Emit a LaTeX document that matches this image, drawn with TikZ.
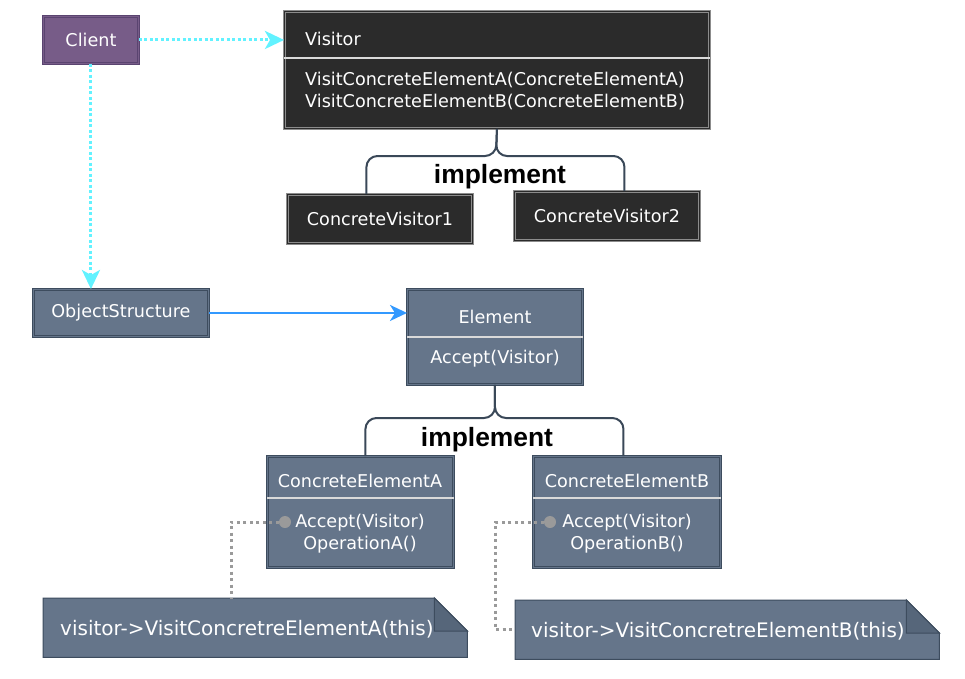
\documentclass[tikz,border=0pt]{standalone}
\usepackage{fontspec}
\setmainfont{DejaVu Sans}
\newfontfamily\impfont{Liberation Sans}
\usetikzlibrary{arrows.meta,calc}
\definecolor{slate}{HTML}{65758A}
\definecolor{slateline}{HTML}{3D4C5E}
\definecolor{darkfill}{HTML}{2B2B2B}
\definecolor{darkline}{HTML}{8C8C8C}
\definecolor{purp}{HTML}{775C88}
\definecolor{purpline}{HTML}{5A4470}
\definecolor{cyanline}{HTML}{62F2FF}
\definecolor{blueline}{HTML}{3399FF}
\definecolor{bracecol}{HTML}{3A4858}
\definecolor{dotgray}{HTML}{9A9A9A}
\definecolor{divcol}{HTML}{DADADA}
\definecolor{foldcol}{HTML}{56667A}
\begin{document}
\begin{tikzpicture}[x=1pt,y=-1pt,
  ubox/.style n args={4}{draw=#2, fill=#1, line width=0.9pt, double=#1, double distance=1.6pt,
    inner sep=0pt, anchor=north west, minimum width=#3, minimum height=#4,
    text=white, font=\fontsize{17.6}{21}\selectfont},
  lbl/.style={text=white, inner sep=0pt, font=\fontsize{17.6}{22}\selectfont},
  divider/.style={draw=divcol, line width=1.5pt},
  brace/.style={draw=bracecol, line width=2pt, rounded corners=11pt},
  impl/.style={inner sep=0pt, font=\impfont\bfseries\fontsize{26.4}{30}\selectfont},
  cyandot/.style={draw=cyanline, line width=3pt, dash pattern=on 3pt off 2.5pt,
    -{Stealth[length=19pt,width=18pt,inset=5pt]}},
  bluearrow/.style={draw=blueline, line width=2.5pt, -{Stealth[length=17pt,width=16pt,inset=5pt]}},
  graydot/.style={draw=dotgray, line width=3pt, dash pattern=on 3pt off 3.5pt},
  grayball/.style={circle, fill=dotgray, minimum size=12pt, inner sep=0pt},
  notebox/.style={inner sep=0pt, anchor=north west, minimum width=424pt, minimum height=59pt},
  noteshape/.style={draw=slateline, fill=slate, line width=1pt},
  foldshape/.style={draw=slateline, fill=foldcol, line width=1pt},
  notetext/.style={text=white, inner sep=0pt, anchor=west, font=\fontsize{20}{24}\selectfont}
]
\useasboundingbox (0,0) rectangle (965,678);
\fill[white] (0,0) rectangle (965,678);

% Client
\node[ubox={purp}{purpline}{95pt}{47pt}] (client) at (43,16) {Client};

% Visitor
\node[ubox={darkfill}{darkline}{425pt}{117pt}] (visitor) at (284,11) {};
\draw[divider] (visitor.west |- 0,58) -- (visitor.east |- 0,58);
\node[lbl, anchor=west] (vtitle) at (305,39) {Visitor};
\node[lbl, anchor=west, align=left] (vmeth) at (305,91) {VisitConcreteElementA(ConcreteElementA)\\VisitConcreteElementB(ConcreteElementB)};

% Concrete visitors
\node[ubox={darkfill}{darkline}{185pt}{49pt}] (cv1) at (287,194) {ConcreteVisitor1};
\node[ubox={darkfill}{darkline}{185pt}{49pt}] (cv2) at (514,191) {ConcreteVisitor2};

% Brace 1
\draw[brace] (visitor.south) -- (496,156) -| ([xshift=-13.5pt]cv1.north);
\draw[brace] (visitor.south) -- (496,156) -| ([xshift=17.5pt]cv2.north);
\node[impl] (impl1) at (500,177) {implement};

% ObjectStructure
\node[ubox={slate}{slateline}{175pt}{47pt}] (objs) at (33,289) {ObjectStructure};

% Element
\node[ubox={slate}{slateline}{175pt}{95pt}] (element) at (407,289) {};
\draw[divider] (element.west |- 0,337) -- (element.east |- 0,337);
\node[lbl] (etitle) at (495,317) {Element};
\node[lbl] (emeth) at (495,359) {Accept(Visitor)};

% Concrete elements
\node[ubox={slate}{slateline}{186pt}{111pt}] (cea) at (267,456) {};
\draw[divider] (cea.west |- 0,498) -- (cea.east |- 0,498);
\node[lbl] (ceatitle) at (360,481) {ConcreteElementA};
\node[lbl, align=center] (ceameth) at (360,534) {Accept(Visitor)\\OperationA()};

\node[ubox={slate}{slateline}{187pt}{111pt}] (ceb) at (533,456) {};
\draw[divider] (ceb.west |- 0,498) -- (ceb.east |- 0,498);
\node[lbl] (cebtitle) at (627,481) {ConcreteElementB};
\node[lbl, align=center] (cebmeth) at (627,534) {Accept(Visitor)\\OperationB()};

% Brace 2
\draw[brace] (element.south) -- (495,418) -| ([xshift=5pt]cea.north);
\draw[brace] (element.south) -- (495,418) -| ([xshift=-3.5pt]ceb.north);
\node[impl] (impl2) at (487,440) {implement};

% Arrows
\draw[cyandot] (client.east) -- (visitor.west |- client.east);
\draw[cyandot] (client.south) -- (client.south |- objs.north);
\draw[bluearrow] (objs.east) -- (element.west |- objs.east);

% Notes
\node[notebox] (noteA) at (43,598) {};
\draw[noteshape] (noteA.north west) -- ([xshift=-33pt]noteA.north east) -- ([yshift=-33pt]noteA.north east) -- (noteA.south east) -- (noteA.south west) -- cycle;
\draw[foldshape] ([xshift=-33pt]noteA.north east) -- ([xshift=-33pt,yshift=-33pt]noteA.north east) -- ([yshift=-33pt]noteA.north east) -- cycle;
\node[notetext] (noteAt) at (60,629) {visitor->VisitConcretreElementA(this)};

\node[notebox] (noteB) at (515,600) {};
\draw[noteshape] (noteB.north west) -- ([xshift=-33pt]noteB.north east) -- ([yshift=-33pt]noteB.north east) -- (noteB.south east) -- (noteB.south west) -- cycle;
\draw[foldshape] ([xshift=-33pt]noteB.north east) -- ([xshift=-33pt,yshift=-33pt]noteB.north east) -- ([yshift=-33pt]noteB.north east) -- cycle;
\node[notetext] (noteBt) at (531,631) {visitor->VisitConcretreElementB(this)};

% Dotted note links
\node[grayball] (dotA) at (285,522) {};
\node[grayball] (dotB) at (550,522) {};
\draw[graydot] (dotA.west) -| ([xshift=188pt]noteA.north west);
\draw[graydot] (dotB.west) -- ++(-48,0) |- (noteB.west);
\end{tikzpicture}
\end{document}
